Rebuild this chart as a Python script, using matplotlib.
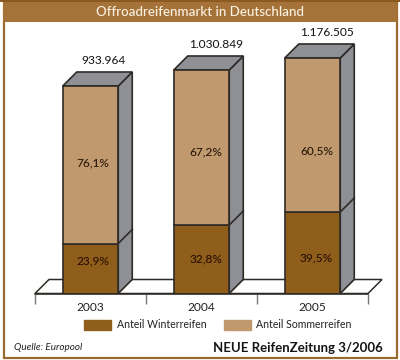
import matplotlib
matplotlib.use("Agg")
import matplotlib.pyplot as plt
from matplotlib.patches import Polygon, Rectangle, Patch
import numpy as np

plt.rcParams['font.family'] = ['Lato', 'DejaVu Sans']

##data
years = ["2003", "2004", "2005"]
totals = ["933.964", "1.030.849", "1.176.505"]
winter_labels = ["23,9%", "32,8%", "39,5%"]
summer_labels = ["76,1%", "67,2%", "60,5%"]
# segment heights as drawn in the picture (they are not to scale with the totals)
winter_drawn = [50, 68.5, 81.5]
summer_drawn = [157.5, 155, 154]

##colours
brown = "#a5723a"
frame = "#9a6b2e"
winter_col = "#8f5e1b"
summer_col = "#c09a6e"
grey = "#8f9095"
line = "#2e2a26"

W, H = 400, 360
fig = plt.figure(figsize=(W / 100, H / 100), dpi=100)
fig.patch.set_facecolor("white")

# frame and title band, figure pixels with y going down
def px(x, y):
    return x / W, 1 - y / H

fig.patches.append(Rectangle(px(3.5, 357.5), 393 / W, 355 / H, transform=fig.transFigure,
                             fc="white", ec=frame, lw=1.6, zorder=-2))
fig.patches.append(Rectangle(px(3, 22), 394 / W, 22 / H, transform=fig.transFigure,
                             fc=brown, ec="none", zorder=-1))
fig.patches.append(Rectangle(px(0, 2), 1, 2 / H, transform=fig.transFigure,
                             fc="#8a5a20", ec="none", zorder=-1))
fig.text(*px(200, 12), "Offroadreifenmarkt in Deutschland", color="#fbf3e2", fontsize=9.6,
         ha="center", va="center", fontweight="medium")

# axes: x = category index, y = drawn height above the floor
left, right, base, top = 35, 368, 293.5, 24
ax = fig.add_axes([left / W, 1 - base / H, (right - left) / W, (base - top) / H])
ax.set_xlim(-0.5, 2.5)
ax.set_ylim(0, base - top)
ax.patch.set_alpha(0)
for s in ["top", "left", "right"]:
    ax.spines[s].set_visible(False)
ax.spines["bottom"].set_color(line)
ax.spines["bottom"].set_linewidth(1.1)
ax.spines["bottom"].set_zorder(6)
ax.set_yticks([])
ax.set_xticks(range(len(years)))
ax.set_xticklabels(years, fontsize=8.6, color="#222222")
ax.tick_params(axis="x", length=0, pad=6)
ax.set_xticks([-0.5, 0.5, 1.5, 2.5], minor=True)
ax.tick_params(axis="x", which="minor", length=7, color="#777777", width=1)

bar_w = 0.5
dx = 14 / 111
dy = 14

# floor
ax.add_patch(Polygon([(-0.5, 0), (-0.5 + dx, dy), (2.5 + dx, dy), (2.5, 0)], closed=True,
                     fc="white", ec=line, lw=1.1, zorder=1, clip_on=False))

ax.bar(range(3), winter_drawn, bar_w, color=winter_col, edgecolor=line, lw=1.2, zorder=4)
ax.bar(range(3), summer_drawn, bar_w, bottom=winter_drawn, color=summer_col,
       edgecolor=line, lw=1.2, zorder=4)

# side and top faces
for i in range(3):
    x1 = i + bar_w / 2
    x0 = i - bar_w / 2
    h = winter_drawn[i] + summer_drawn[i]
    ax.add_patch(Polygon([(x1, 0), (x1 + dx, dy), (x1 + dx, h + dy), (x1, h)], closed=True,
                         fc=grey, ec=line, lw=1.2, zorder=3))
    ax.add_patch(Polygon([(x0, h), (x0 + dx, h + dy), (x1 + dx, h + dy), (x1, h)], closed=True,
                         fc=grey, ec=line, lw=1.2, zorder=3))
    ax.plot([x1, x1 + dx], [winter_drawn[i], winter_drawn[i] + dy], color=line, lw=1.2, zorder=3.5)

# labels, pixel offsets picked by eye
total_dx = [12.5, 14.5, 14.5]
total_dy = [26, 26, 25]
summer_y = [163, 152, 151]
winter_y = [261, 259, 258]
label_dx = [2.5, 4.5, 4]
for i in range(3):
    h = winter_drawn[i] + summer_drawn[i]
    ax.annotate(totals[i], (i, h), xytext=(total_dx[i] * 0.72, total_dy[i] * 0.72),
                textcoords="offset points", ha="center", va="center", fontsize=8.6, color="#111111")
    ax.text(i + label_dx[i] / 111, base - summer_y[i], summer_labels[i], ha="center", va="center",
            fontsize=8.6, color="#2a1808", zorder=7, fontweight="medium")
    ax.text(i + label_dx[i] / 111, base - winter_y[i], winter_labels[i], ha="center", va="center",
            fontsize=8.6, color="#2a0f05", zorder=7, fontweight="medium")

# legend
handles = [Patch(color=winter_col), Patch(color=summer_col)]
fig.legend(handles, ["Anteil Winterreifen", "Anteil Sommerreifen"], ncol=2,
           loc="center", bbox_to_anchor=px(218, 325), frameon=False, fontsize=7.6,
           handlelength=2.55, handleheight=1.05, handletextpad=0.5, columnspacing=1.7,
           labelcolor="#222222")

fig.text(*px(14, 348), "Quelle: Europool", fontsize=7.1, style="italic", color="#222222",
         ha="left", va="center")
fig.text(*px(213, 348), "NEUE ReifenZeitung 3/2006", fontsize=9.5, color="#151515",
         ha="left", va="center", fontweight="bold")

fig.savefig("out.png", dpi=100)
